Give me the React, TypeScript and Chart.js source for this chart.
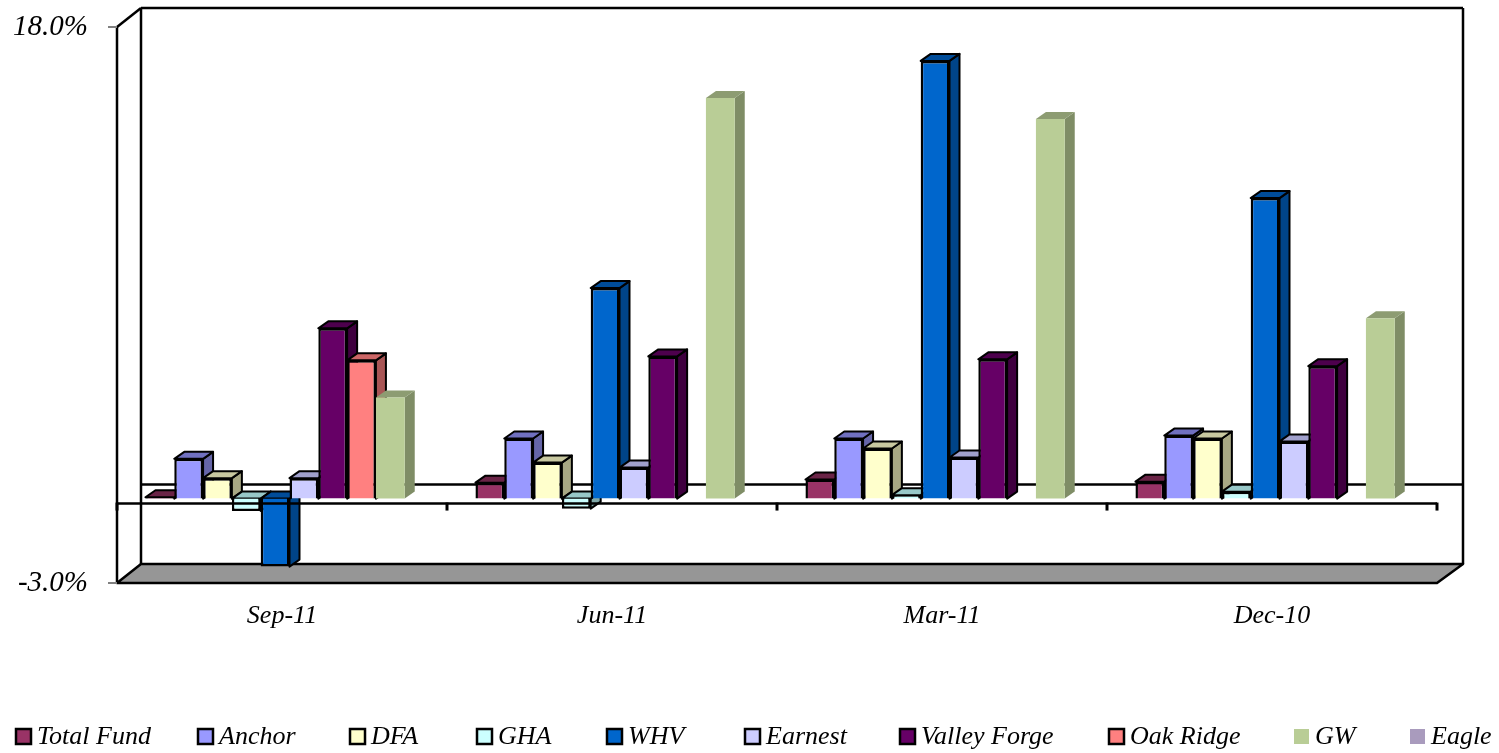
import React, { useEffect, useRef } from "react";
import { Chart, registerables } from "chart.js";

Chart.register(...registerables);

const categories = ["Sep-11", "Jun-11", "Mar-11", "Dec-10"];
const totalFund = [0.05, 0.6, 0.72, 0.64];
const anchor = [1.5, 2.27, 2.27, 2.38];
const dfa = [0.77, 1.36, 1.89, 2.27];
const gha = [-0.47, -0.38, 0.13, 0.26];
const whv = [-2.57, 7.95, 16.53, 11.35];
const earnest = [0.77, 1.17, 1.55, 2.16];
const valleyForge = [6.43, 5.37, 5.26, 5.0];
const oakRidge = [5.22, null, null, null];
const gw = [3.82, 15.13, 14.34, 6.81];
const eagle = [null, null, null, null];

const seriesDefs = [
  { label: "Total Fund", data: totalFund, color: "#993366", top: "#6b2447", side: "#5c1f3d", edge: true, x: 15 },
  { label: "Anchor", data: anchor, color: "#9999FF", top: "#7070c0", side: "#6666a8", edge: true, x: 197 },
  { label: "DFA", data: dfa, color: "#FFFFCC", top: "#c8c8a0", side: "#a8a884", edge: true, x: 349 },
  { label: "GHA", data: gha, color: "#CCFFFF", top: "#98c8c8", side: "#80a8a8", edge: true, x: 476 },
  { label: "WHV", data: whv, color: "#0066CC", top: "#004c99", side: "#004488", edge: true, x: 606 },
  { label: "Earnest", data: earnest, color: "#CCCCFF", top: "#a0a0cc", side: "#8888aa", edge: true, x: 744 },
  { label: "Valley Forge", data: valleyForge, color: "#660066", top: "#4d004d", side: "#3f003f", edge: true, x: 899 },
  { label: "Oak Ridge", data: oakRidge, color: "#FF8080", top: "#cc6666", side: "#a85555", edge: true, x: 1108 },
  { label: "GW", data: gw, color: "#B9CD96", top: "#8d9c72", side: "#7f8d66", edge: false, x: 1294 },
  { label: "Eagle", data: eagle, color: "#A99BBD", top: "#7f748e", side: "#6f6680", edge: false, x: 1410 },
];

const FONT = "'Liberation Serif', 'Times New Roman', serif";
const BAR_DX = 7.5;
const BAR_DY = -5;
const DEPTH_X = 10;
const DEPTH_Y = -7;
const WALL_DX = 24;
const WALL_DY = -19;

const poly = (ctx: CanvasRenderingContext2D, pts: number[][], fill: string | null, stroke: string | null, lw = 2.5) => {
  ctx.beginPath();
  pts.forEach((p, i) => (i ? ctx.lineTo(p[0], p[1]) : ctx.moveTo(p[0], p[1])));
  ctx.closePath();
  if (fill) {
    ctx.fillStyle = fill;
    ctx.fill();
  }
  if (stroke) {
    ctx.strokeStyle = stroke;
    ctx.lineWidth = lw;
    ctx.lineJoin = "round";
    ctx.stroke();
  }
};

const seg = (ctx: CanvasRenderingContext2D, x1: number, y1: number, x2: number, y2: number, lw = 2.5, color = "#000") => {
  ctx.beginPath();
  ctx.moveTo(x1, y1);
  ctx.lineTo(x2, y2);
  ctx.strokeStyle = color;
  ctx.lineWidth = lw;
  ctx.stroke();
};

const wallsPlugin = {
  id: "walls",
  beforeDatasetsDraw(chart: any) {
    const { ctx, chartArea: a, scales } = chart;
    const zero = scales.y.getPixelForValue(0);
    ctx.save();
    const bl = a.left + WALL_DX;
    const br = a.right + WALL_DX + 2;
    const bt = a.top + WALL_DY;
    const bb = a.bottom + WALL_DY;
    poly(ctx, [[a.left, a.bottom], [bl, bb], [br, bb], [a.right, a.bottom]], "#969696", "#000");
    seg(ctx, a.left, a.top, a.left, a.bottom);
    seg(ctx, a.left, a.top, bl, bt);
    seg(ctx, bl, bt, br, bt);
    seg(ctx, bl, bt, bl, bb);
    seg(ctx, br, bt, br, bb);
    seg(ctx, bl, zero + WALL_DY, br, zero + WALL_DY);
    seg(ctx, a.left - 9, a.top, a.left, a.top, 2, "#808080");
    seg(ctx, a.left - 9, a.bottom, a.left, a.bottom, 2, "#808080");

    ctx.translate(BAR_DX, BAR_DY);
    chart.data.labels.forEach((_: string, c: number) => {
      seriesDefs.forEach((s, d) => {
        const el = chart.getDatasetMeta(d).data[c];
        const v = s.data[c];
        if (!el || v === null) return;
        const { x, y, base, width } = el.getProps(["x", "y", "base", "width"], true);
        const l = x - width / 2;
        const r = x + width / 2;
        const t = Math.min(y, base);
        const b = Math.max(y, base);
        const st = s.edge ? "#000" : null;
        poly(ctx, [[r, t], [r + DEPTH_X, t + DEPTH_Y], [r + DEPTH_X, b + DEPTH_Y], [r, b]], s.side, st, 2);
        poly(ctx, [[l, t], [l + DEPTH_X, t + DEPTH_Y], [r + DEPTH_X, t + DEPTH_Y], [r, t]], s.top, st, 2);
      });
    });
    ctx.restore();
    ctx.save();
    ctx.translate(BAR_DX, BAR_DY);
  },
  afterDatasetsDraw(chart: any) {
    const { ctx, chartArea: a, scales } = chart;
    ctx.restore();
    const zero = scales.y.getPixelForValue(0);
    ctx.save();
    seg(ctx, a.left, zero, a.right, zero, 2.5);
    const n = chart.data.labels.length;
    for (let i = 0; i <= n; i++) {
      const x = a.left + (i * (a.right - a.left)) / n;
      seg(ctx, x, zero - 1, x, zero + 7, 3);
    }
    ctx.textBaseline = "middle";
    ctx.textAlign = "left";
    ctx.font = `italic 26px ${FONT}`;
    seriesDefs.forEach((s) => {
      const by = 728;
      if (s.edge) {
        ctx.fillStyle = s.color;
        ctx.fillRect(s.x + 1, by + 1, 15, 15);
        ctx.strokeStyle = "#000";
        ctx.lineWidth = 2.5;
        ctx.strokeRect(s.x + 1, by + 1, 15, 15);
      } else {
        ctx.fillStyle = s.color;
        ctx.fillRect(s.x, by + 1, 15, 15);
      }
      ctx.fillStyle = "#000";
      ctx.fillText(s.label, s.x + (s.edge ? 22 : 21), 737);
    });
    ctx.restore();
  },
};

export default function App() {
  const ref = useRef<HTMLCanvasElement | null>(null);
  useEffect(() => {
    if (!ref.current) return;
    const chart = new Chart(ref.current, {
      type: "bar",
      data: {
        labels: categories,
        datasets: seriesDefs.map((s) => ({
          label: s.label,
          data: s.data,
          backgroundColor: s.color,
          borderColor: s.edge ? "#000" : s.color,
          borderWidth: s.edge ? 2.5 : 0,
          clip: false as any,
          categoryPercentage: 0.873,
          barPercentage: 1,
        })),
      },
      options: {
        animation: false,
        responsive: false,
        layout: { padding: { top: 27, right: 62, bottom: 0, left: 0 } },
        plugins: { legend: { display: false }, tooltip: { enabled: false } },
        scales: {
          x: {
            grid: { display: false },
            border: { display: false },
            ticks: {
              color: "#000",
              padding: 10,
              maxRotation: 0,
              font: { family: FONT, size: 26, style: "italic" },
            },
            afterFit(scale: any) {
              scale.height = 170;
            },
          },
          y: {
            min: -3,
            max: 18,
            grid: { drawOnChartArea: false, drawTicks: true, tickLength: 29, color: "rgba(0,0,0,0)" },
            border: { display: false },
            ticks: {
              stepSize: 21,
              color: "#000",
              padding: 0,
              font: { family: FONT, size: 29, style: "italic" },
              callback: (v: any) => Number(v).toFixed(1) + "%",
            },
            afterFit(scale: any) {
              scale.width = 117;
            },
          },
        },
      },
      plugins: [wallsPlugin],
    });
    return () => chart.destroy();
  }, []);
  return (
    <canvas
      ref={ref}
      width={1499}
      height={753}
      style={{ position: "absolute", left: 0, top: 0, display: "block", background: "#fff" }}
    />
  );
}
